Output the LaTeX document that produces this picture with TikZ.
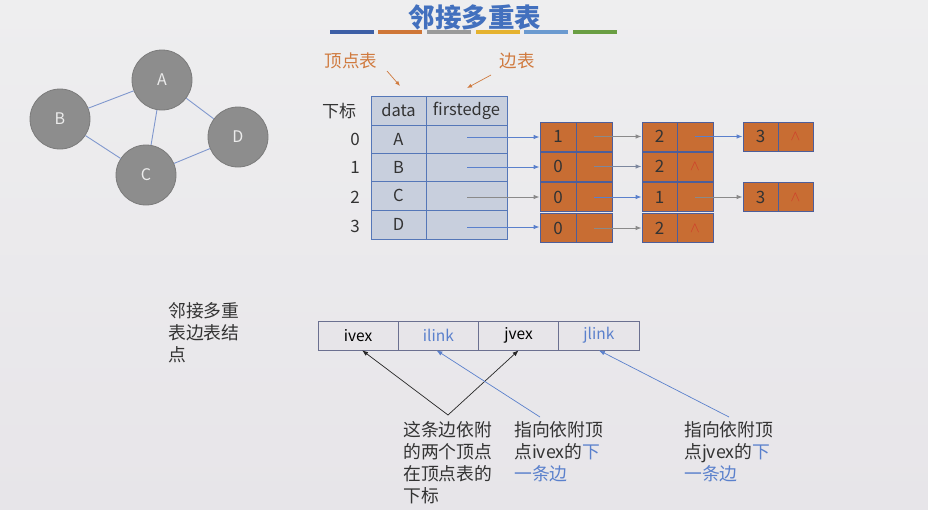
\documentclass[tikz,border=0pt]{standalone}
\usepackage{fontspec}
\setmainfont{Noto Sans CJK SC}
\usetikzlibrary{arrows.meta}
\definecolor{bgtop}{HTML}{EEEEEF}
\definecolor{bgbot}{HTML}{E7E5E9}
\definecolor{titleblue}{HTML}{4270BE}
\definecolor{barA}{HTML}{3D5FA6}
\definecolor{barB}{HTML}{CF7637}
\definecolor{barC}{HTML}{9A9A9A}
\definecolor{barD}{HTML}{E5B22F}
\definecolor{barE}{HTML}{6B9AD0}
\definecolor{barF}{HTML}{6A9E43}
\definecolor{lblorange}{HTML}{D07A3E}
\definecolor{tabfill}{HTML}{C8CFDD}
\definecolor{tabline}{HTML}{5577B8}
\definecolor{enfill}{HTML}{C86D33}
\definecolor{enline}{HTML}{4D5E9A}
\definecolor{linkblue}{HTML}{5A80CC}
\definecolor{linkgrey}{HTML}{8A8A8A}
\definecolor{vfill}{HTML}{8D8D8D}
\definecolor{vline}{HTML}{7B7B7B}
\definecolor{gedge}{HTML}{8098CE}
\definecolor{txt}{HTML}{333333}
\definecolor{nullred}{HTML}{D03A2A}
\definecolor{boxline}{HTML}{6B7090}
\tikzset{
  vert/.style={circle,fill=vfill,draw=vline,line width=0.8pt,minimum size=60pt,inner sep=0pt,text=white!92!black,font=\fontsize{16}{16}\selectfont},
  gline/.style={draw=gedge,line width=0.9pt},
  tcell/.style={rectangle,draw=tabline,fill=tabfill,line width=0.8pt,inner sep=0pt,text=txt,font=\fontsize{16.5}{16.5}\selectfont},
  ecell/.style={rectangle,draw=enline,fill=enfill,line width=0.8pt,inner sep=0pt,minimum height=29pt,text=txt,font=\fontsize{17}{17}\selectfont},
  mcell/.style={rectangle,draw=boxline,fill=bgbot,line width=0.6pt,inner sep=0pt,minimum width=80.25pt,minimum height=29pt,font=\fontsize{15.5}{15.5}\selectfont},
  ptr/.style={-{Latex[length=6pt,width=4.5pt]},line width=0.9pt},
  lbl/.style={font=\fontsize{17.8}{22}\selectfont,text=txt,align=left,inner sep=0pt},
  idx/.style={text=txt,font=\fontsize{17}{17}\selectfont},
  bar/.style={line width=4pt},
  nul/.style={text=nullred,font=\fontsize{14}{14}\selectfont}
}
\begin{document}
\begin{tikzpicture}[x=1pt,y=-1pt]
\shade[top color=bgtop,bottom color=bgbot] (0,0) rectangle (928,509);
\useasboundingbox (0,0) rectangle (928,509);

% title
\node[text=titleblue,font=\fontsize{26.5}{26.5}\selectfont\bfseries] (title) at (475,17) {邻接多重表};
\draw[bar,barA] (330,32) -- (374,32);
\draw[bar,barB] (378,32) -- (422,32);
\draw[bar,barC] (427,32) -- (471,32);
\draw[bar,barD] (476,32) -- (520,32);
\draw[bar,barE] (524,32) -- (568,32);
\draw[bar,barF] (573,32) -- (617,32);

% graph
\node[vert] (A) at (162,80) {A};
\node[vert] (B) at (60,119) {B};
\node[vert] (C) at (146,175) {C};
\node[vert] (D) at (238,137) {D};
\draw[gline] (B) -- (A);
\draw[gline] (A) -- (C);
\draw[gline] (A) -- (D);
\draw[gline] (B) -- (C);
\draw[gline] (C) -- (D);

% labels over table
\node[text=lblorange,font=\fontsize{17.5}{17.5}\selectfont] (vtl) at (351,61) {顶点表};
\node[text=lblorange,font=\fontsize{17.5}{17.5}\selectfont] (etl) at (517,61) {边表};
\coordinate (va) at (400,86);
\coordinate (ea) at (467,88);
\draw[-{Latex[length=5pt,width=4pt]},lblorange,line width=0.7pt] (387,71) -- (va);
\draw[-{Latex[length=5pt,width=4pt]},lblorange,line width=0.7pt] (491,75) -- (ea);

% table
\node[tcell,minimum width=55pt,minimum height=29pt] (h1) at (398.5,110.5) {data};
\node[tcell,minimum width=81pt,minimum height=29pt] (h2) at (466.5,110.5) {firstedge};
\node[tcell,minimum width=55pt,minimum height=28pt] (d0) at (398.5,139) {A};
\node[tcell,minimum width=81pt,minimum height=28pt] (f0) at (466.5,139) {};
\node[tcell,minimum width=55pt,minimum height=28pt] (d1) at (398.5,167) {B};
\node[tcell,minimum width=81pt,minimum height=28pt] (f1) at (466.5,167) {};
\node[tcell,minimum width=55pt,minimum height=29pt] (d2) at (398.5,195.5) {C};
\node[tcell,minimum width=81pt,minimum height=29pt] (f2) at (466.5,195.5) {};
\node[tcell,minimum width=55pt,minimum height=29pt] (d3) at (398.5,224.5) {D};
\node[tcell,minimum width=81pt,minimum height=29pt] (f3) at (466.5,224.5) {};

\node[idx] (xb) at (339,111) {下标};
\node[idx] (i0) at (355,139) {0};
\node[idx] (i1) at (355,167) {1};
\node[idx] (i2) at (355,197) {2};
\node[idx] (i3) at (355,226) {3};

% edge nodes row 0
\node[ecell,minimum width=36pt] (n01) at (558,136.5) {1};
\node[ecell,minimum width=36pt] (n01b) at (594,136.5) {};
\node[ecell,minimum width=35pt] (n02) at (659.5,136.5) {2};
\node[ecell,minimum width=36pt] (n02b) at (695,136.5) {};
\node[ecell,minimum width=35pt] (n03) at (760.5,136.5) {3};
\node[ecell,minimum width=35pt,nul] (n03b) at (795.5,136.5) {$\wedge$};
% row 1
\node[ecell,minimum width=36pt] (n11) at (558,166.5) {0};
\node[ecell,minimum width=36pt] (n11b) at (594,166.5) {};
\node[ecell,minimum width=35pt] (n12) at (659.5,166.5) {2};
\node[ecell,minimum width=36pt,nul] (n12b) at (695,166.5) {$\wedge$};
% row 2
\node[ecell,minimum width=36pt] (n21) at (558,197) {0};
\node[ecell,minimum width=36pt] (n21b) at (594,197) {};
\node[ecell,minimum width=35pt] (n22) at (659.5,197) {1};
\node[ecell,minimum width=36pt] (n22b) at (695,197) {};
\node[ecell,minimum width=35pt] (n23) at (760.5,197) {3};
\node[ecell,minimum width=35pt,nul] (n23b) at (795.5,197) {$\wedge$};
% row 3
\node[ecell,minimum width=36pt] (n31) at (558,228) {0};
\node[ecell,minimum width=36pt] (n31b) at (594,228) {};
\node[ecell,minimum width=35pt] (n32) at (659.5,228) {2};
\node[ecell,minimum width=36pt,nul] (n32b) at (695,228) {$\wedge$};

% pointers
\coordinate (s0) at (467,137);
\coordinate (s1) at (467,167);
\coordinate (s2) at (467,197);
\coordinate (s3) at (467,227);
\draw[ptr,linkblue] (s0) -- (n01.west |- s0);
\draw[ptr,linkblue] (s1) -- (n11.west |- s1);
\draw[ptr,linkgrey] (s2) -- (n21.west |- s2);
\draw[ptr,linkblue] (s3) -- (n31.west |- s3);

\draw[ptr,linkgrey] (n01b.center) -- (n02.west);
\draw[ptr,linkblue] (n02b.center) -- (n03.west);
\draw[ptr,linkgrey!70!linkblue] (n11b.center) -- (n12.west);
\draw[ptr,linkblue] (n21b.center) -- (n22.west);
\draw[ptr,linkgrey] (n22b.center) -- (n23.west);
\draw[ptr,linkgrey] (n31b.center) -- (n32.west);

% bottom
\node[lbl,anchor=north west] (mlabel) at (168,302) {邻接多重\\表边表结\\点};
\node[mcell] (ivex) at (358.1,335.5) {ivex};
\node[mcell,text=linkblue] (ilink) at (438.4,335.5) {ilink};
\node[mcell] (jvex) at (518.6,335.5) {jvex};
\node[mcell,text=linkblue] (jlink) at (598.9,335.5) {jlink};

\coordinate (apex) at (448,415);
\coordinate (c1) at (540,417);
\coordinate (c2) at (729,417);
\draw[ptr,black!85,line width=0.7pt] (apex) -- ([xshift=4pt]ivex.south);
\draw[ptr,black!85,line width=0.7pt] (apex) -- (jvex.south);
\draw[ptr,linkblue,line width=0.7pt] (c1) -- ([xshift=-2pt]ilink.south);
\draw[ptr,linkblue,line width=0.7pt] (c2) -- (jlink.south);

\node[lbl,anchor=north west] (t1) at (403,421) {这条边依附\\的两个顶点\\在顶点表的\\下标};
\node[lbl,anchor=north west] (t2) at (514,421) {指向依附顶\\点ivex的\textcolor{linkblue}{下}\\\textcolor{linkblue}{一条边}};
\node[lbl,anchor=north west] (t3) at (684,421) {指向依附顶\\点jvex的\textcolor{linkblue}{下}\\\textcolor{linkblue}{一条边}};
\end{tikzpicture}
\end{document}
